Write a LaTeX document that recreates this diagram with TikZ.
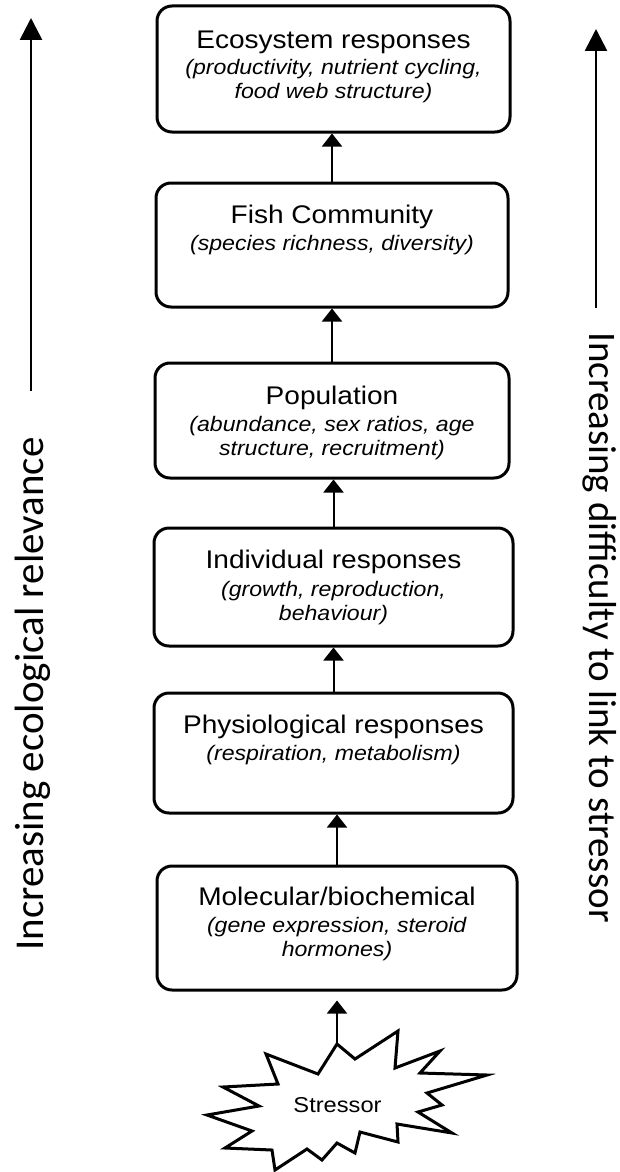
\documentclass[tikz,border=0pt]{standalone}
\usepackage{fontspec}
\setmainfont{Liberation Sans}
\newfontfamily\boxfont{Liberation Sans}[FakeStretch=1.1]
\newfontfamily\sidefont{Carlito}
\usetikzlibrary{arrows.meta,calc}
\tikzset{
  box/.style={draw, line width=3pt, rounded corners=15pt, inner sep=0pt},
  boxtext/.style={anchor=north, inner sep=0pt, align=center, font=\boxfont\fontsize{21}{24}\selectfont},
  link/.style={line width=2pt, -{Triangle[width=20pt,length=13pt]}},
  sidearrow/.style={line width=2.7pt, -{Triangle[width=22pt,length=22pt]}},
  sidetext/.style={font=\sidefont\fontsize{41}{41}\selectfont, inner sep=0pt, anchor=base},
  star/.style={line width=3pt, line join=miter}
}
\newcommand{\ttlfont}{\fontsize{25.5}{25.5}\selectfont}
\begin{document}
\begin{tikzpicture}[x=1pt,y=-1pt]
\useasboundingbox (0,0) rectangle (619,1172);
% boxes
\node[box, minimum width=353pt, minimum height=126pt] (b1) at (333.5,69) {};
\node[box, minimum width=352pt, minimum height=124pt] (b2) at (332,245) {};
\node[box, minimum width=354pt, minimum height=115pt] (b3) at (332,420.5) {};
\node[box, minimum width=359pt, minimum height=118pt] (b4) at (333.5,587) {};
\node[box, minimum width=359pt, minimum height=120pt] (b5) at (333.5,753) {};
\node[box, minimum width=360pt, minimum height=124pt] (b6) at (337,928) {};
% texts
\node[boxtext] (t1) at ($(b1.north)+(0,26)$) {{\ttlfont Ecosystem responses}\\[2pt]\textit{(productivity, nutrient cycling,}\\\textit{food web structure)}};
\node[boxtext] (t2) at ($(b2.north)+(0,23)$) {{\ttlfont Fish Community}\\[3pt]\textit{(species richness, diversity)}};
\node[boxtext] (t3) at ($(b3.north)+(0,24)$) {{\ttlfont Population}\\[3pt]\textit{(abundance, sex ratios, age}\\\textit{structure, recruitment)}};
\node[boxtext] (t4) at ($(b4.north)+(0,23)$) {{\ttlfont Individual responses}\\[4pt]\textit{(growth, reproduction,}\\\textit{behaviour)}};
\node[boxtext] (t5) at ($(b5.north)+(0,23)$) {{\ttlfont Physiological responses}\\[3pt]\textit{(respiration, metabolism)}};
\node[boxtext] (t6) at ($(b6.north)+(0,22)$) {{\ttlfont Molecular/biochemical}\\[3pt]\textit{(gene expression, steroid}\\\textit{hormones)}};
% links
\draw[link] (b2.north) -- (b2.north |- b1.south);
\draw[link] (b3.north) -- (b3.north |- b2.south);
\draw[link] (b4.north) -- (b4.north |- b3.south);
\draw[link] (b5.north) -- (b5.north |- b4.south);
\draw[link] (b6.north) -- (b6.north |- b5.south);
% stressor star
\coordinate (startop) at (337,1044);
\draw[star] (startop) -- (355,1059) -- (398,1031) -- (395,1068) -- (440,1051) -- (420,1073)
  -- (487,1075) -- (427,1093) -- (442,1105) -- (418,1112) -- (452,1133) -- (397,1124)
  -- (398,1142) -- (360,1132) -- (355,1153) -- (337,1143) -- (322,1160) -- (307,1149)
  -- (275,1170) -- (272,1150) -- (225,1148) -- (252,1131) -- (207,1115) -- (259,1106)
  -- (223,1087) -- (278,1084) -- (266,1054) -- (318,1074) -- cycle;
\node[font=\boxfont\fontsize{21.5}{21.5}\selectfont, inner sep=0pt, anchor=base] (stressor) at (337.5,1112) {Stressor};
\draw[link] (startop) -- ([yshift=-9pt]b6.south);
% side arrows
\coordinate (lbot) at (31,391);
\coordinate (ltop) at (31,18);
\coordinate (rbot) at (596,308);
\coordinate (rtop) at (596,29);
\draw[sidearrow] (lbot) -- (ltop);
\draw[sidearrow] (rbot) -- (rtop);
\node[sidetext, rotate=90] (lefttext) at (43,694) {Increasing ecological relevance};
\node[sidetext, rotate=-90, font=\sidefont\fontsize{39}{39}\selectfont] (righttext) at (589,627.5) {Increasing difficulty to link to stressor};
\end{tikzpicture}
\end{document}
